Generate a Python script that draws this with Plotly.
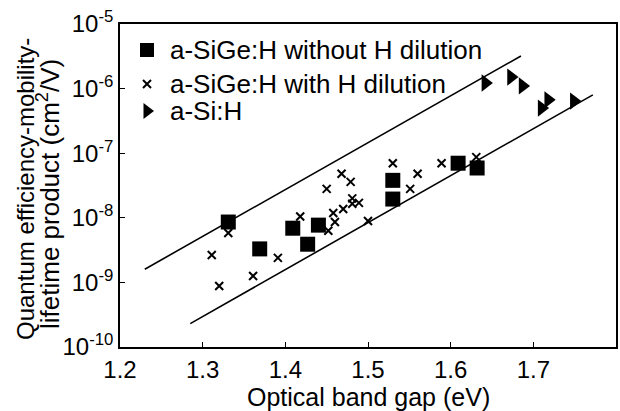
import plotly.graph_objects as go

# ---- data ----
sq_gap = [1.331, 1.369, 1.409, 1.427, 1.440, 1.530, 1.530, 1.609, 1.632]
sq_mt = [8.6e-9, 3.3e-9, 6.9e-9, 3.9e-9, 7.7e-9, 3.8e-8, 1.95e-8, 7.0e-8, 5.9e-8]

x_gap = [1.311, 1.320, 1.331, 1.361, 1.391, 1.418, 1.450, 1.468, 1.479, 1.481,
         1.481, 1.489, 1.470, 1.458, 1.460, 1.452, 1.500, 1.530, 1.551, 1.560,
         1.589, 1.631]
x_mt = [2.65e-9, 8.8e-10, 5.8e-9, 1.26e-9, 2.4e-9, 1.05e-8, 2.8e-8, 4.8e-8, 3.6e-8, 2.0e-8,
        1.65e-8, 1.7e-8, 1.37e-8, 1.19e-8, 8.6e-9, 6.3e-9, 8.9e-9, 7.0e-8, 2.8e-8, 4.8e-8,
        7.0e-8, 8.7e-8]

tri_gap = [1.642, 1.673, 1.687, 1.710, 1.718, 1.749]
tri_mt = [1.22e-6, 1.51e-6, 1.1e-6, 5.0e-7, 6.7e-7, 6.4e-7]

upper_gap = [1.230, 1.685]
upper_mt = [1.6e-9, 3.2e-6]
lower_gap = [1.285, 1.772]
lower_mt = [2.3e-10, 8.0e-7]

x_ticks = [1.2, 1.3, 1.4, 1.5, 1.6, 1.7, 1.8]
x_ticktext = ["1.2", "1.3", "1.4", "1.5", "1.6", "1.7", "1.8"]
y_ticks = [1e-10, 1e-9, 1e-8, 1e-7, 1e-6, 1e-5]
y_ticktext = ["10<sup>-10</sup>", "10<sup>-9</sup>", "10<sup>-8</sup>",
              "10<sup>-7</sup>", "10<sup>-6</sup>", "10<sup>-5</sup>"]

legend_labels = ["a-SiGe:H without H dilution", "a-SiGe:H with H dilution", "a-Si:H"]

FONT = "Liberation Sans, Arial, Helvetica, sans-serif"
W, H = 620, 411
L, R, T, B = 120, 4, 24, 64

fig = go.Figure()

fig.add_trace(go.Scatter(x=upper_gap, y=upper_mt, mode="lines",
                         line=dict(color="black", width=1.6), showlegend=False))
fig.add_trace(go.Scatter(x=lower_gap, y=lower_mt, mode="lines",
                         line=dict(color="black", width=1.6), showlegend=False))

fig.add_trace(go.Scatter(x=x_gap, y=x_mt, mode="markers",
                         marker=dict(symbol="x-thin", size=8,
                                     line=dict(color="black", width=2)),
                         showlegend=False))
fig.add_trace(go.Scatter(x=sq_gap, y=sq_mt, mode="markers",
                         marker=dict(symbol="square", size=15, color="black"),
                         showlegend=False))
fig.add_trace(go.Scatter(x=tri_gap, y=tri_mt, mode="markers",
                         marker=dict(symbol="triangle-right", size=15, color="black"),
                         showlegend=False))

# ---- hand-drawn legend (markers on an overlay axis in paper-like units) ----
def px2py(py):
    return (H - B - py) / (H - T - B)

def px2px(px):
    return (px - L) / (W - L - R)

leg_rows = [px2py(50), px2py(84), px2py(111)]
leg_mx = px2px(147)
leg_tx = px2px(168)
leg_symbols = ["square", "x-thin", "triangle-right"]
leg_sizes = [14, 8, 14]
for sym, sz, yy in zip(leg_symbols, leg_sizes, leg_rows):
    fig.add_trace(go.Scatter(x=[leg_mx], y=[yy], mode="markers", xaxis="x2", yaxis="y2",
                             marker=dict(symbol=sym, size=sz, color="black",
                                         line=dict(color="black", width=2 if sym == "x-thin" else 0)),
                             showlegend=False, hoverinfo="skip"))
for lab, yy in zip(legend_labels, leg_rows):
    fig.add_annotation(text=lab, x=leg_tx, y=yy, xref="paper", yref="paper",
                       xanchor="left", yanchor="middle", showarrow=False,
                       font=dict(family=FONT, size=26, color="black"))

# axis titles
fig.add_annotation(text="Optical band gap (eV)", x=px2px(368), y=px2py(397),
                   xref="paper", yref="paper", xanchor="center", yanchor="middle",
                   showarrow=False, font=dict(family=FONT, size=25, color="black"))
fig.add_annotation(text="Quantum efficiency-mobility-", x=px2px(25), y=px2py(189),
                   xref="paper", yref="paper", xanchor="center", yanchor="middle",
                   textangle=-90, showarrow=False,
                   font=dict(family=FONT, size=24, color="black"))
fig.add_annotation(text="lifetime product (cm<sup>2</sup>/V)", x=px2px(48), y=px2py(194),
                   xref="paper", yref="paper", xanchor="center", yanchor="middle",
                   textangle=-90, showarrow=False,
                   font=dict(family=FONT, size=26, color="black"))

fig.update_layout(
    width=W, height=H,
    margin=dict(l=L, r=R, t=T, b=B, autoexpand=False),
    paper_bgcolor="white", plot_bgcolor="white",
    font=dict(family=FONT, color="black"),
    xaxis=dict(range=[1.2, 1.8], tickvals=x_ticks, ticktext=x_ticktext,
               ticks="inside", ticklen=5, tickwidth=1.2, tickcolor="black",
               showline=True, linecolor="black", linewidth=1.6, mirror=True,
               showgrid=False, zeroline=False,
               tickfont=dict(family=FONT, size=24, color="black")),
    yaxis=dict(type="log", range=[-10, -5], tickvals=y_ticks, ticktext=y_ticktext,
               ticks="inside", ticklen=5, tickwidth=1.2, tickcolor="black",
               showline=True, linecolor="black", linewidth=1.6, mirror=True,
               showgrid=False, zeroline=False,
               tickfont=dict(family=FONT, size=24, color="black")),
    xaxis2=dict(range=[0, 1], overlaying="x", visible=False, domain=[0, 1]),
    yaxis2=dict(range=[0, 1], overlaying="y", visible=False, domain=[0, 1]),
    showlegend=False,
)

fig.write_html("out.html")
